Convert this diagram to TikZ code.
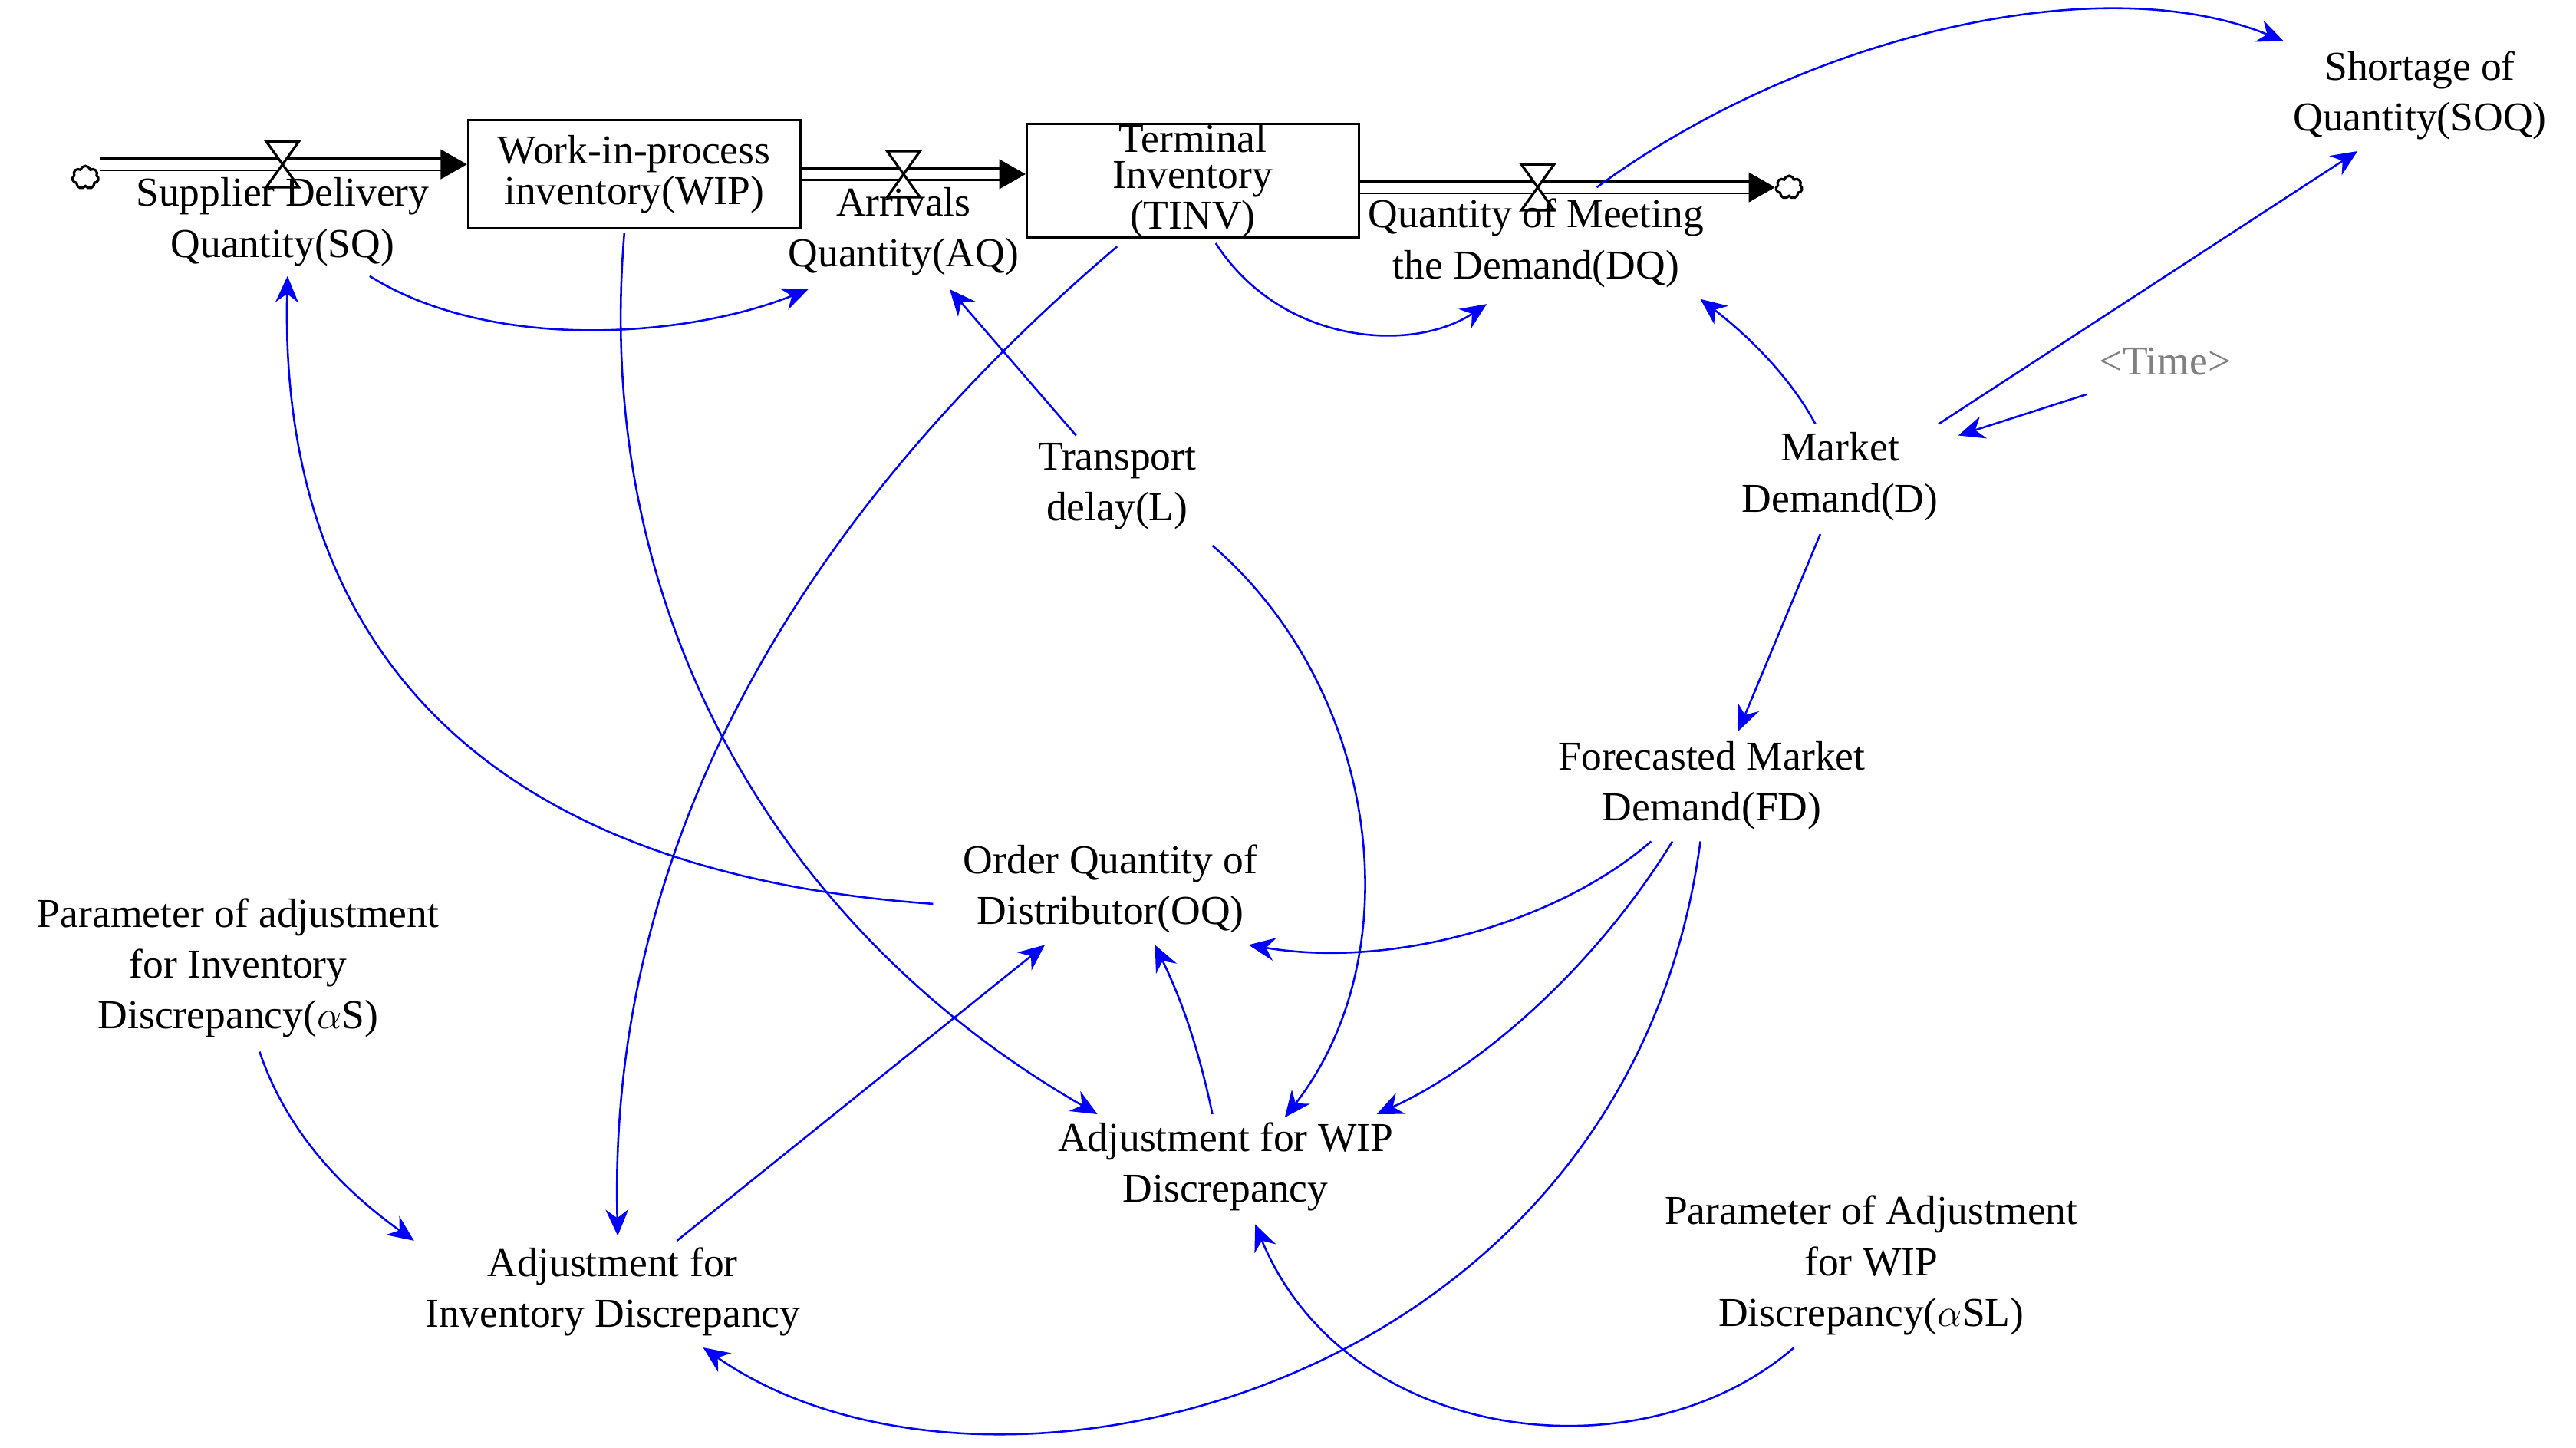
\documentclass[tikz,border=0pt]{standalone}
\usepackage{fontspec}
\setmainfont{Liberation Serif}
\usetikzlibrary{shapes, shapes.symbols, arrows.meta, calc}
\usetikzlibrary{positioning}
\tikzset{every picture/.style={line width=0.75pt}}

\begin{document}
\begin{tikzpicture}[x=0.5pt,y=-0.5pt,every node/.style={theme}]

     \tikzstyle{theme} = [align=center, inner sep=1pt,
						font=\fontsize{12.5}{15.5}\selectfont]
     \tikzstyle{stock} = [draw=black, minimum width=101pt, minimum height=33pt, inner sep=0pt,
						font=\fontsize{12.5}{11}\selectfont]
     \tikzstyle{puff} = [cloud, draw=black, cloud puffs=7, minimum width=8pt, minimum height=7pt, inner sep=0pt]
     \tikzstyle{flow} = [draw=black, double, double distance=3pt, line width=0.6pt, -{Triangle[length=8pt,width=9pt]}]
     \tikzstyle{link} = [blue, line width=0.6pt, ->, >={Stealth[length=8pt,width=7pt]}]

\useasboundingbox (0,0) rectangle (1568,881);

\node [puff] (c1) at (52,108) {};
\node [puff] (c2) at (1089,114) {};
\node [stock] (wip) at (386,106) {Work-in-process\\inventory(WIP)};
\node [stock] (tinv) at (726,110) {Terminal\\Inventory\\(TINV)};

\coordinate (v1) at (172,100);
\coordinate (v2) at (550,106);
\coordinate (v3) at (936,114);
\draw [flow] (c1.east |- v1) -- (wip.west |- v1);
\draw [flow] (wip.east |- v2) -- (tinv.west |- v2);
\draw [flow] (tinv.east |- v3) -- (c2.west |- v3);
\foreach \v in {v1,v2,v3}
  \draw [fill=white] ($(\v)+(-10,-14)$) -- ($(\v)+(10,-14)$) -- ($(\v)+(-10,14)$) -- ($(\v)+(10,14)$) -- cycle;

\node (sq) at (172,135) {Supplier Delivery\\Quantity(SQ)};
\node (aq) at (550,141) {Arrivals\\Quantity(AQ)};
\node (dq) at (935,148) {Quantity of Meeting\\the Demand(DQ)};
\node (soq) at (1473,58) {Shortage of\\Quantity(SOQ)};
\node [text=gray] (time) at (1318,220) {<Time>};
\node (md) at (1120,290) {Market\\Demand(D)};
\node (tl) at (680,296) {Transport\\delay(L)};
\node (fd) at (1042,478) {Forecasted Market\\Demand(FD)};
\node (oq) at (676,541) {Order Quantity of\\Distributor(OQ)};
\node (ps) at (145,589) {Parameter of adjustment\\for Inventory\\Discrepancy($\alpha$S)};
\node (awip) at (746,710) {Adjustment for WIP\\Discrepancy};
\node (ainv) at (373,786) {Adjustment for\\Inventory Discrepancy};
\node (psl) at (1139,770) {Parameter of Adjustment\\for WIP\\Discrepancy($\alpha$SL)};

\draw [link] (225,168) .. controls (300,215) and (420,205) .. (492,176);
\draw [link] (740,148) .. controls (780,210) and (860,215) .. (905,185);
\draw [link] (972,114) .. controls (1100,20) and (1280,-20) .. (1390,25);
\draw [link] (1180,258) -- (1435,92);
\draw [link] (1270,240) -- (1192,265);
\draw [link] (1105,258) .. controls (1090,230) and (1065,205) .. (1035,182);
\draw [link] (1108,325) -- (1058,445);
\draw [link] (655,265) -- (578,176);
\draw [link] (738,332) .. controls (840,420) and (860,580) .. (782,680);
\draw [link] (380,142) .. controls (360,380) and (480,570) .. (668,678);
\draw [link] (680,150) .. controls (480,320) and (370,520) .. (376,752);
\draw [link] (568,550) .. controls (280,530) and (170,380) .. (175,168);
\draw [link] (1005,512) .. controls (950,560) and (850,590) .. (760,575);
\draw [link] (1018,512) .. controls (970,590) and (900,650) .. (838,678);
\draw [link] (1035,512) .. controls (990,850) and (600,940) .. (428,820);
\draw [link] (738,678) .. controls (730,640) and (720,610) .. (703,575);
\draw [link] (412,755) -- (636,575);
\draw [link] (158,640) .. controls (175,690) and (210,725) .. (252,755);
\draw [link] (1092,820) .. controls (1000,900) and (820,880) .. (764,745);

\end{tikzpicture}
\end{document}
